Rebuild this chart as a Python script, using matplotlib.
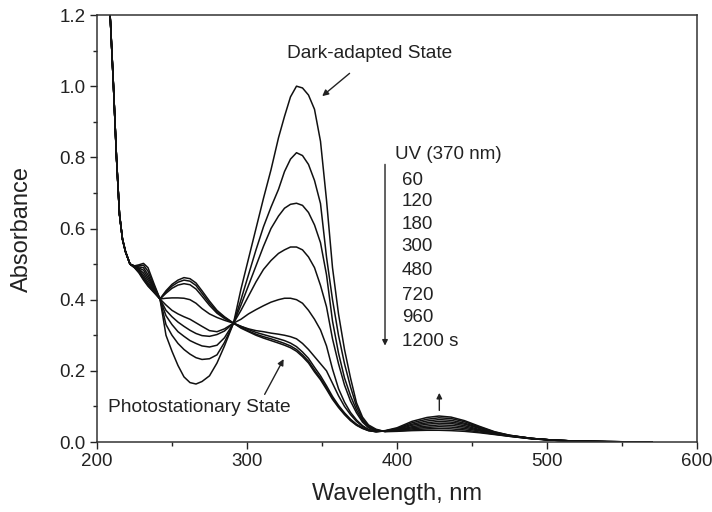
import numpy as np
import matplotlib
matplotlib.use("Agg")
import matplotlib.pyplot as plt

plt.rcParams['font.family'] = ['Liberation Sans', 'DejaVu Sans']

# steep UV edge, shared by all spectra
edge_wl = [207, 209, 211, 213, 215, 217, 219, 222]
edge_abs = [1.32, 1.18, 1.0, 0.8, 0.64, 0.57, 0.535, 0.50]

# wavelengths where the spectra differ
wl = [225, 228, 231, 234, 238, 242,
      246, 250, 254, 258, 262, 266, 270, 275, 280, 285, 291,
      296, 301, 306, 311, 316, 321, 325, 329, 333, 337, 341, 345, 349, 353,
      357, 361, 365, 369, 373, 377, 381, 386,
      392, 400, 410, 420, 428, 436, 445, 455, 465, 475, 490]

# long-wavelength tail, shared
tail_wl = [505, 520, 540, 555, 570]
tail_abs = [0.005, 0.0025, 0.001, 0.0005, 0.0002]

dark = [0.495, 0.498, 0.502, 0.49, 0.445, 0.402,
        0.30, 0.255, 0.215, 0.183, 0.167, 0.163, 0.17, 0.186, 0.222, 0.27, 0.334,
        0.43, 0.515, 0.60, 0.685, 0.765, 0.855, 0.915, 0.97, 1.0, 0.995, 0.975, 0.935, 0.845, 0.68,
        0.49, 0.36, 0.26, 0.18, 0.11, 0.07, 0.048, 0.036,
        0.029, 0.03, 0.032, 0.033, 0.033, 0.032, 0.03, 0.026, 0.021, 0.016, 0.009]
t60 = [0.495, 0.495, 0.497, 0.48, 0.44, 0.402,
       0.33, 0.30, 0.277, 0.26, 0.247, 0.237, 0.232, 0.234, 0.245, 0.28, 0.334,
       0.40, 0.47, 0.54, 0.605, 0.66, 0.71, 0.76, 0.795, 0.813, 0.805, 0.78, 0.735, 0.67, 0.52,
       0.40, 0.30, 0.22, 0.155, 0.10, 0.065, 0.045, 0.034,
       0.03, 0.031, 0.034, 0.037, 0.038, 0.037, 0.034, 0.028, 0.022, 0.016, 0.009]
t120 = [0.494, 0.492, 0.49, 0.47, 0.435, 0.402,
        0.355, 0.33, 0.31, 0.297, 0.285, 0.277, 0.27, 0.267, 0.272, 0.293, 0.334,
        0.385, 0.44, 0.495, 0.55, 0.6, 0.635, 0.657, 0.668, 0.671, 0.665, 0.645, 0.61, 0.56, 0.47,
        0.34, 0.25, 0.18, 0.13, 0.09, 0.06, 0.042, 0.033,
        0.03, 0.032, 0.037, 0.041, 0.043, 0.042, 0.038, 0.031, 0.023, 0.017, 0.009]
t180 = [0.493, 0.489, 0.483, 0.462, 0.432, 0.402,
        0.37, 0.352, 0.337, 0.325, 0.314, 0.305, 0.299, 0.297, 0.302, 0.312, 0.334,
        0.37, 0.41, 0.45, 0.485, 0.51, 0.53, 0.54, 0.548, 0.548, 0.54, 0.52, 0.49, 0.44, 0.38,
        0.29, 0.22, 0.16, 0.115, 0.082, 0.056, 0.04, 0.032,
        0.03, 0.033, 0.04, 0.045, 0.048, 0.047, 0.042, 0.033, 0.024, 0.017, 0.01]
t300 = [0.493, 0.486, 0.475, 0.455, 0.428, 0.402,
        0.385, 0.37, 0.36, 0.352, 0.345, 0.335, 0.325, 0.313, 0.31, 0.318, 0.334,
        0.345, 0.36, 0.372, 0.383, 0.393, 0.4, 0.404, 0.404, 0.4, 0.39, 0.37, 0.345, 0.315, 0.27,
        0.205, 0.15, 0.112, 0.083, 0.062, 0.046, 0.035, 0.031,
        0.03, 0.034, 0.043, 0.05, 0.053, 0.052, 0.046, 0.035, 0.025, 0.018, 0.01]
t480 = [0.492, 0.483, 0.468, 0.448, 0.425, 0.402,
        0.404, 0.405, 0.405, 0.404, 0.40, 0.39, 0.375, 0.36, 0.35, 0.342, 0.334,
        0.325, 0.318, 0.313, 0.31, 0.306, 0.303, 0.3, 0.296, 0.29, 0.277, 0.26, 0.24, 0.22, 0.2,
        0.165, 0.13, 0.1, 0.077, 0.058, 0.044, 0.035, 0.03,
        0.031, 0.035, 0.047, 0.054, 0.058, 0.056, 0.05, 0.038, 0.026, 0.018, 0.01]
t720 = [0.491, 0.48, 0.462, 0.443, 0.423, 0.402,
        0.418, 0.432, 0.441, 0.445, 0.442, 0.43, 0.41, 0.384, 0.362, 0.347, 0.334,
        0.325, 0.316, 0.308, 0.302, 0.296, 0.29, 0.285, 0.278, 0.268, 0.253, 0.235, 0.21, 0.186, 0.158,
        0.128, 0.103, 0.082, 0.064, 0.05, 0.04, 0.033, 0.029,
        0.031, 0.037, 0.05, 0.059, 0.063, 0.061, 0.053, 0.04, 0.027, 0.018, 0.01]
t960 = [0.49, 0.477, 0.458, 0.44, 0.421, 0.402,
        0.422, 0.438, 0.449, 0.455, 0.452, 0.44, 0.418, 0.39, 0.366, 0.35, 0.334,
        0.322, 0.312, 0.303, 0.296, 0.29, 0.283, 0.277, 0.27, 0.26, 0.245, 0.227, 0.202, 0.179, 0.152,
        0.123, 0.1, 0.079, 0.062, 0.048, 0.039, 0.032, 0.029,
        0.031, 0.038, 0.054, 0.064, 0.068, 0.066, 0.057, 0.042, 0.028, 0.019, 0.01]
t1200 = [0.49, 0.475, 0.455, 0.438, 0.42, 0.402,
         0.425, 0.443, 0.455, 0.462, 0.459, 0.447, 0.425, 0.396, 0.37, 0.352, 0.334,
         0.32, 0.31, 0.3, 0.292, 0.285, 0.278, 0.272, 0.265, 0.255, 0.24, 0.222, 0.197, 0.175, 0.148,
         0.12, 0.097, 0.077, 0.06, 0.047, 0.038, 0.032, 0.029,
         0.032, 0.04, 0.058, 0.069, 0.073, 0.07, 0.06, 0.044, 0.029, 0.019, 0.01]

spectra = [dark, t60, t120, t180, t300, t480, t720, t960, t1200]
time_labels = ["60", "120", "180", "300", "480", "720", "960", "1200 s"]

ink = '#222222'

fig = plt.figure(figsize=(7.12, 5.12), dpi=100)
ax = fig.add_axes([0.1362, 0.1367, 0.8428, 0.834])

x_all = np.array(edge_wl + wl + tail_wl)
for s in spectra:
    y_all = np.array(edge_abs + s + tail_abs)
    ax.plot(x_all, y_all, color='#111111', lw=1.1)

ax.set_xlim(200, 600)
ax.set_ylim(0, 1.2)
ax.set_xticks([200, 300, 400, 500, 600])
ax.set_xticks([250, 350, 450, 550], minor=True)
ax.set_yticks(np.arange(0, 1.21, 0.2))
ax.set_yticks(np.arange(0.1, 1.2, 0.2), minor=True)
ax.yaxis.set_major_formatter(plt.FormatStrFormatter('%.1f'))
ax.tick_params(which='major', direction='out', length=5, width=1, colors=ink,
               labelsize=13.5, top=False, right=False, pad=3)
ax.tick_params(which='minor', direction='out', length=3, width=1, colors=ink,
               top=False, right=False)
for sp in ax.spines.values():
    sp.set_color('#333333')
    sp.set_linewidth(1.1)

ax.set_xlabel("Wavelength, nm", fontsize=17, color=ink)
ax.set_ylabel("Absorbance", fontsize=17, color=ink)
ax.xaxis.set_label_coords(0.5, -0.097)
ax.yaxis.set_label_coords(-0.107, 0.5)

# annotations
ax.text(382, 1.093, "Dark-adapted State", fontsize=13.8, color=ink, ha='center', va='center')
ax.annotate("", xy=(348.7, 0.967), xytext=(369.8, 1.041),
            arrowprops=dict(arrowstyle='-|>', color=ink, lw=1, mutation_scale=9))

ax.text(207.3, 0.096, "Photostationary State", fontsize=13.8, color=ink, ha='left', va='center')
ax.annotate("", xy=(325.3, 0.24), xytext=(310.9, 0.127),
            arrowprops=dict(arrowstyle='-|>', color=ink, lw=1, mutation_scale=9))

ax.text(398.7, 0.807, "UV (370 nm)", fontsize=13.5, color=ink, ha='left', va='center')
label_y = [0.736, 0.675, 0.61, 0.549, 0.483, 0.413, 0.349, 0.282]
for lab, yy in zip(time_labels, label_y):
    ax.text(403.1, yy, lab, fontsize=13.5, color=ink, ha='left', va='center')
ax.annotate("", xy=(392, 0.263), xytext=(392, 0.788),
            arrowprops=dict(arrowstyle='-|>', color=ink, lw=1, mutation_scale=8))

ax.annotate("", xy=(428.2, 0.146), xytext=(428.2, 0.081),
            arrowprops=dict(arrowstyle='-|>', color=ink, lw=1, mutation_scale=8))

fig.savefig("out.png", dpi=100)
